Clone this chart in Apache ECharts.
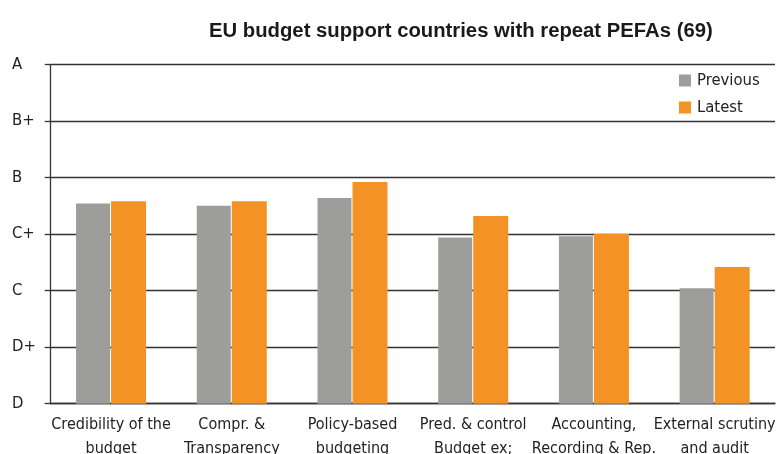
<!DOCTYPE html>
<html>
<head>
<meta charset="utf-8">
<style>
  html, body { margin: 0; padding: 0; background: #fff; }
  #chart { width: 779px; height: 454px; }
</style>
<script src="https://cdn.jsdelivr.net/npm/echarts@6/dist/echarts.min.js"></script>
</head>
<body>
<div id="chart"></div>
<script>
// PEFA dimensions (x axis)
const categories = [
  'Credibility of the\nbudget',
  'Compr. &\nTransparency',
  'Policy-based\nbudgeting',
  'Pred. & control\nBudget ex;',
  'Accounting,\nRecording & Rep.',
  'External scrutiny\nand audit'
];

// Average scores on the numeric PEFA scale (D = 1 ... A = 4)
const previousScores = [2.77, 2.75, 2.82, 2.47, 2.48, 2.02];
const latestScores   = [2.79, 2.79, 2.96, 2.66, 2.50, 2.21];

// Letter grades shown on the y axis, from D up to A
const gradeLabels = ['D', 'D+', 'C', 'C+', 'B', 'B+', 'A'];
const gradeMin = 1;
const gradeStep = 0.5;

const FONT = '"Liberation Sans Narrow", "DejaVu Sans Condensed", "Liberation Sans", sans-serif';
const TEXT = '#222';

const chart = echarts.init(document.getElementById('chart'));
chart.setOption({
  animation: false,
  title: {
    text: 'EU budget support countries with repeat PEFAs (69)',
    left: 204,
    top: 16,
    textStyle: {
      fontFamily: '"Liberation Sans", sans-serif',
      fontWeight: 'bold',
      fontSize: 20.3,
      color: '#1a1a1a'
    }
  },
  legend: {
    orient: 'vertical',
    left: 674,
    top: 67,
    itemWidth: 12,
    itemHeight: 12,
    itemGap: 10,
    icon: 'rect',
    textStyle: { fontFamily: FONT, fontSize: 16.5, color: TEXT, padding: [0, 0, 0, 1] },
    data: ['Previous', 'Latest']
  },
  grid: {
    left: 50.7, right: 4, top: 64.5, bottom: 50.3,
    containLabel: false,
    outerBoundsMode: 'none'
  },
  xAxis: {
    type: 'category',
    data: categories,
    axisLine: { show: true, lineStyle: { color: '#333', width: 1.3 } },
    axisTick: { show: false },
    axisLabel: {
      interval: 0,
      margin: 9,
      fontFamily: FONT,
      fontSize: 16,
      lineHeight: 24,
      color: TEXT
    }
  },
  yAxis: {
    type: 'value',
    min: gradeMin,
    max: gradeMin + gradeStep * (gradeLabels.length - 1),
    interval: gradeStep,
    axisLine: { show: true, lineStyle: { color: '#333', width: 1.3 } },
    axisTick: { show: true, length: 6, lineStyle: { color: '#333', width: 1.3 } },
    splitLine: { show: true, lineStyle: { color: '#333', width: 1.3 } },
    axisLabel: {
      align: 'left',
      margin: 38.7,
      fontFamily: FONT,
      fontSize: 16.5,
      color: TEXT,
      formatter: function (v) {
        const i = Math.round((v - gradeMin) / gradeStep);
        return gradeLabels[i] || '';
      }
    }
  },
  series: [
    {
      name: 'Previous',
      type: 'bar',
      data: previousScores,
      barWidth: 34,
      barGap: '3%',
      itemStyle: { color: '#9d9d9c' }
    },
    {
      name: 'Latest',
      type: 'bar',
      data: latestScores,
      barWidth: 35,
      itemStyle: { color: '#f39325' }
    }
  ]
});
</script>
</body>
</html>
